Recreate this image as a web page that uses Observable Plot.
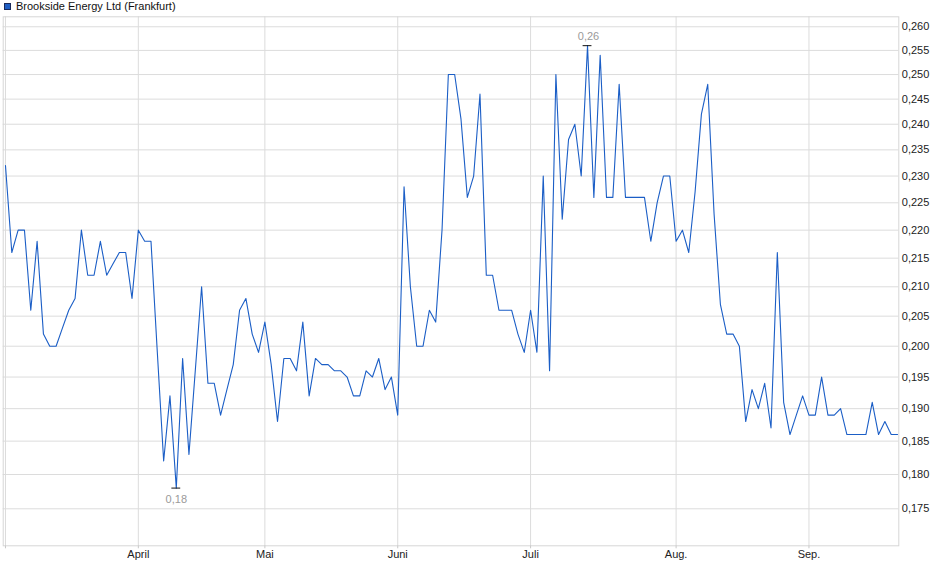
<!DOCTYPE html>
<html><head><meta charset="utf-8">
<script src="https://cdn.jsdelivr.net/npm/d3@7"></script>
<script src="https://cdn.jsdelivr.net/npm/@observablehq/plot@0.6"></script>
<style>
body{margin:0;background:#fff;font-family:"Liberation Sans",Arial,sans-serif;}
#wrap{position:relative;width:940px;height:579px;}
#legend{position:absolute;left:4px;top:0px;font-size:11px;line-height:12px;color:#111;display:flex;align-items:center;white-space:nowrap;}
#legend .sw{display:inline-block;width:5px;height:5px;background:#1f5fc4;border:1px solid #1a2a5a;margin-right:5px;}
#chart svg{display:block;}
</style></head><body>
<div id="wrap"><div id="chart"></div><div id="legend"><span class="sw"></span>Brookside Energy Ltd (Frankfurt)</div></div>
<script>
const seriesName = "Brookside Energy Ltd (Frankfurt)";
const prices = [
  0.232,0.216,0.220,0.220,0.206,0.218,0.202,0.200,0.200,0.203,
  0.206,0.208,0.220,0.212,0.212,0.218,0.212,0.214,0.216,0.216,
  0.208,0.220,0.218,0.218,0.199,0.182,0.192,0.178,0.198,0.183,
  0.196,0.210,0.194,0.194,0.189,0.193,0.197,0.206,0.208,0.202,
  0.199,0.204,0.197,0.188,0.198,0.198,0.196,0.204,0.192,0.198,
  0.197,0.197,0.196,0.196,0.195,0.192,0.192,0.196,0.195,0.198,
  0.193,0.195,0.189,0.228,0.210,0.200,0.200,0.206,0.204,0.220,
  0.250,0.250,0.241,0.226,0.230,0.246,0.212,0.212,0.206,0.206,
  0.206,0.202,0.199,0.206,0.199,0.230,0.196,0.250,0.222,0.237,
  0.240,0.230,0.256,0.226,0.254,0.226,0.226,0.248,0.226,0.226,
  0.226,0.226,0.218,0.225,0.230,0.230,0.218,0.220,0.216,0.227,
  0.242,0.248,0.223,0.207,0.202,0.202,0.200,0.188,0.193,0.190,
  0.194,0.187,0.216,0.191,0.186,0.189,0.192,0.189,0.189,0.195,
  0.189,0.189,0.190,0.186,0.186,0.186,0.186,0.191,0.186,0.188,
  0.186,0.186
];
const monthLabels = ["", "April", "Mai", "Juni", "Juli", "Aug.", "Sep."];
const monthStart = [0, 21, 41, 62, 83, 106, 127];
const yTicks = [0.175,0.180,0.185,0.190,0.195,0.200,0.205,0.210,0.215,0.220,0.225,0.230,0.235,0.240,0.245,0.250,0.255,0.260];

const data = prices.map((v, i) => ({i, v}));
const maxI = d3.maxIndex(prices), minI = d3.minIndex(prices);
const fmt3 = d => d.toFixed(3).replace(".", ",");
const fmt2 = d => d.toFixed(2).replace(".", ",");
const gridColor = "#dcdcdc";

const chart = Plot.plot({
  width: 940, height: 579,
  marginTop: 16.3, marginBottom: 33.7, marginLeft: 2.7, marginRight: 41.7,
  style: {fontFamily: "'Liberation Sans', Arial, sans-serif", fontSize: "11px", color: "#222", background: "#fff", overflow: "visible"},
  x: {type: "linear", domain: [-0.36, 141.2], label: null},
  y: {type: "log", domain: [0.16976, 0.26214], label: null},
  marks: [
    Plot.gridY(yTicks, {stroke: gridColor, strokeOpacity: 1}),
    Plot.gridX(monthStart, {stroke: gridColor, strokeOpacity: 1}),
    Plot.frame({stroke: "#d6d6d6"}),
    Plot.axisY(yTicks, {anchor: "right", tickSize: 0, tickPadding: 3, tickFormat: fmt3, label: null, fill: "#222", fontSize: 11}),
    Plot.axisX(monthStart, {anchor: "bottom", tickSize: 3, tickPadding: 1.5, label: null, stroke: "#c8c8c8", fill: "#222", fontSize: 11,
      tickFormat: d => monthLabels[monthStart.indexOf(d)]}),
    Plot.lineY(data, {x: "i", y: "v", stroke: "#1b5ec6", strokeWidth: 1.1}),
    Plot.ruleY([prices[maxI]], {x1: maxI - 0.7, x2: maxI + 0.7, stroke: "#111", strokeWidth: 1}),
    Plot.ruleY([prices[minI]], {x1: minI - 0.7, x2: minI + 0.7, stroke: "#111", strokeWidth: 1}),
    Plot.text([maxI], {x: d => d, y: d => prices[d], text: d => fmt2(prices[d]), dy: -9, dx: 1, fill: "#9a9a9a", fontSize: 11}),
    Plot.text([minI], {x: d => d, y: d => prices[d], text: d => fmt2(prices[d]), dy: 11, dx: 0, fill: "#9a9a9a", fontSize: 11})
  ]
});
document.getElementById("chart").appendChild(chart);
</script>
</body></html>
